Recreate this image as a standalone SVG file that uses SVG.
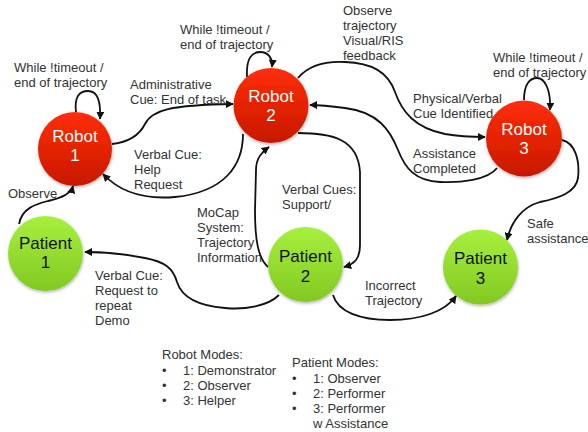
<svg xmlns="http://www.w3.org/2000/svg" width="588" height="432" viewBox="0 0 588 432">
  <style>
    .lbl { font-family: "Liberation Sans", Arial, sans-serif; font-size: 13px; fill: #333; }
    .rtxt { font-family: "Liberation Sans", Arial, sans-serif; font-size: 17px; fill: #fff; text-anchor: middle; }
    .ptxt { font-family: "Liberation Sans", Arial, sans-serif; font-size: 17px; fill: #111; text-anchor: middle; }
    .edge { fill: none; stroke: #111; stroke-width: 1.8; marker-end: url(#arrow); }
    .robot { fill: url(#redGrad); filter: url(#shadow); }
    .patient { fill: url(#greenGrad); filter: url(#shadow); }
  </style>
  <defs>
    <linearGradient id="redGrad" x1="0" y1="0" x2="0" y2="1">
      <stop offset="0" stop-color="#ff2e08"/>
      <stop offset="1" stop-color="#c81800"/>
    </linearGradient>
    <linearGradient id="greenGrad" x1="0" y1="0" x2="0" y2="1">
      <stop offset="0" stop-color="#a8f03e"/>
      <stop offset="1" stop-color="#82c822"/>
    </linearGradient>
    <filter id="shadow" x="-20%" y="-20%" width="140%" height="140%">
      <feDropShadow dx="0.5" dy="1.5" stdDeviation="1.5" flood-color="#000" flood-opacity="0.3"/>
    </filter>
    <marker id="arrow" viewBox="0 0 10 10" refX="9" refY="5" markerWidth="8" markerHeight="8" markerUnits="userSpaceOnUse" orient="auto">
      <path d="M0,0 L10,5 L0,10 z" fill="#111"/>
    </marker>
  </defs>

  <rect width="588" height="432" fill="#fff"/>

  <!-- connectors -->
  <g id="edges">
    <!-- self loops -->
    <path class="edge" d="M76,112 C74,96 80,91 88,91 C97,91 101,100 100,119"/>
    <path class="edge" d="M247,77 C246,58 252,52 260,52 C268,52 273,58 272,67"/>
    <path class="edge" d="M524,100 C524,84 530,78 537,78 C545,78 551,90 550,110"/>
    <!-- Patient 1 -> Robot 1 -->
    <path class="edge" d="M19,224 C22,208 36,204 48,201 C62,198 71,194 73,186"/>
    <!-- Robot 1 -> Robot 2 -->
    <path class="edge" d="M112,144 C130,142 140,134 145,124 C152,110 170,105 233,104"/>
    <!-- Robot 2 -> Robot 1 -->
    <path class="edge" d="M243,134 C243,165 225,192 175,197 C140,200 118,190 103,174"/>
    <!-- Robot 2 -> Robot 3 -->
    <path class="edge" d="M298,78 C308,66 325,61 345,62 C372,63 388,72 395,92 C402,112 415,128 445,134 C462,137 474,137 485,137"/>
    <!-- Robot 3 -> Robot 2 -->
    <path class="edge" d="M497,168 C488,180 460,183 440,182 C415,181 405,168 398,150 C390,130 378,112 345,108 C330,106 318,105 310,105"/>
    <!-- Robot 2 -> Patient 2 -->
    <path class="edge" d="M298,133 C330,133 358,138 360,172 L360,245 C360,258 355,264 344,267"/>
    <!-- Patient 2 -> Robot 2 -->
    <path class="edge" d="M268,267 C258,258 255,240 255,210 L256,170 C256,158 262,152 269,147"/>
    <!-- Patient 2 -> Patient 1 -->
    <path class="edge" d="M279,295 C268,306 245,310 225,308 C200,306 182,298 177,282 C173,268 165,262 145,258 C120,253 100,252 85,252"/>
    <!-- Patient 2 -> Patient 3 -->
    <path class="edge" d="M333,295 C338,312 360,320 390,320 C420,320 445,312 456,296"/>
    <!-- Robot 3 -> Patient 3 -->
    <path class="edge" d="M562,140 C575,143 580,160 578,178 C576,192 560,198 540,202 C522,207 511,222 507,240"/>
  </g>

  <!-- nodes -->
  <g id="robot1">
    <circle class="robot" cx="75" cy="149" r="37"/>
    <text class="rtxt" x="75" y="142">Robot</text>
    <text class="rtxt" x="75" y="161">1</text>
  </g>
  <g id="robot2">
    <circle class="robot" cx="271" cy="105.5" r="37.5"/>
    <text class="rtxt" x="271" y="102">Robot</text>
    <text class="rtxt" x="271" y="121">2</text>
  </g>
  <g id="robot3">
    <circle class="robot" cx="524" cy="138.5" r="38"/>
    <text class="rtxt" x="524" y="135">Robot</text>
    <text class="rtxt" x="524" y="154">3</text>
  </g>
  <g id="patient1">
    <circle class="patient" cx="45.5" cy="253.5" r="37.5"/>
    <text class="ptxt" x="45.5" y="249">Patient</text>
    <text class="ptxt" x="45.5" y="268">1</text>
  </g>
  <g id="patient2">
    <circle class="patient" cx="305.5" cy="264.5" r="37.5"/>
    <text class="ptxt" x="305.5" y="262">Patient</text>
    <text class="ptxt" x="305.5" y="282">2</text>
  </g>
  <g id="patient3">
    <circle class="patient" cx="480.5" cy="267" r="37.5"/>
    <text class="ptxt" x="480.5" y="264">Patient</text>
    <text class="ptxt" x="480.5" y="284">3</text>
  </g>

  <!-- edge labels -->
  <g id="labels">
    <text class="lbl" x="14" y="72">While !timeout /</text>
    <text class="lbl" x="14" y="86.5">end of trajectory</text>

    <text class="lbl" x="180" y="34">While !timeout /</text>
    <text class="lbl" x="180" y="49">end of trajectory</text>

    <text class="lbl" x="493" y="62">While !timeout /</text>
    <text class="lbl" x="493" y="77">end of trajectory</text>

    <text class="lbl" x="130" y="89">Administrative</text>
    <text class="lbl" x="130" y="104">Cue: End of task</text>

    <text class="lbl" x="134" y="159">Verbal Cue:</text>
    <text class="lbl" x="134" y="174">Help</text>
    <text class="lbl" x="134" y="189">Request</text>

    <text class="lbl" x="8" y="198">Observe</text>

    <text class="lbl" x="343" y="15">Observe</text>
    <text class="lbl" x="343" y="30">trajectory</text>
    <text class="lbl" x="343" y="45">Visual/RIS</text>
    <text class="lbl" x="343" y="60">feedback</text>

    <text class="lbl" x="413" y="103">Physical/Verbal</text>
    <text class="lbl" x="413" y="118">Cue Identified</text>

    <text class="lbl" x="413" y="158">Assistance</text>
    <text class="lbl" x="413" y="173">Completed</text>

    <text class="lbl" x="282" y="194">Verbal Cues:</text>
    <text class="lbl" x="282" y="209">Support/</text>

    <text class="lbl" x="197" y="217">MoCap</text>
    <text class="lbl" x="197" y="232">System:</text>
    <text class="lbl" x="197" y="247">Trajectory</text>
    <text class="lbl" x="197" y="262">Information</text>

    <text class="lbl" x="95" y="280">Verbal Cue:</text>
    <text class="lbl" x="95" y="295">Request to</text>
    <text class="lbl" x="95" y="310">repeat</text>
    <text class="lbl" x="95" y="325">Demo</text>

    <text class="lbl" x="365" y="290">Incorrect</text>
    <text class="lbl" x="365" y="305">Trajectory</text>

    <text class="lbl" x="527" y="228">Safe</text>
    <text class="lbl" x="527" y="243">assistance</text>
  </g>

  <!-- mode legend -->
  <g id="legend">
    <text class="lbl" x="162" y="359">Robot Modes:</text>
    <text class="lbl" x="162" y="375">•</text>
    <text class="lbl" x="183" y="375">1: Demonstrator</text>
    <text class="lbl" x="162" y="390">•</text>
    <text class="lbl" x="183" y="390">2: Observer</text>
    <text class="lbl" x="162" y="405">•</text>
    <text class="lbl" x="183" y="405">3: Helper</text>

    <text class="lbl" x="292" y="367">Patient Modes:</text>
    <text class="lbl" x="292" y="383">•</text>
    <text class="lbl" x="313" y="383">1: Observer</text>
    <text class="lbl" x="292" y="398">•</text>
    <text class="lbl" x="313" y="398">2: Performer</text>
    <text class="lbl" x="292" y="413">•</text>
    <text class="lbl" x="313" y="413">3: Performer</text>
    <text class="lbl" x="313" y="428">w Assistance</text>
  </g>
</svg>
